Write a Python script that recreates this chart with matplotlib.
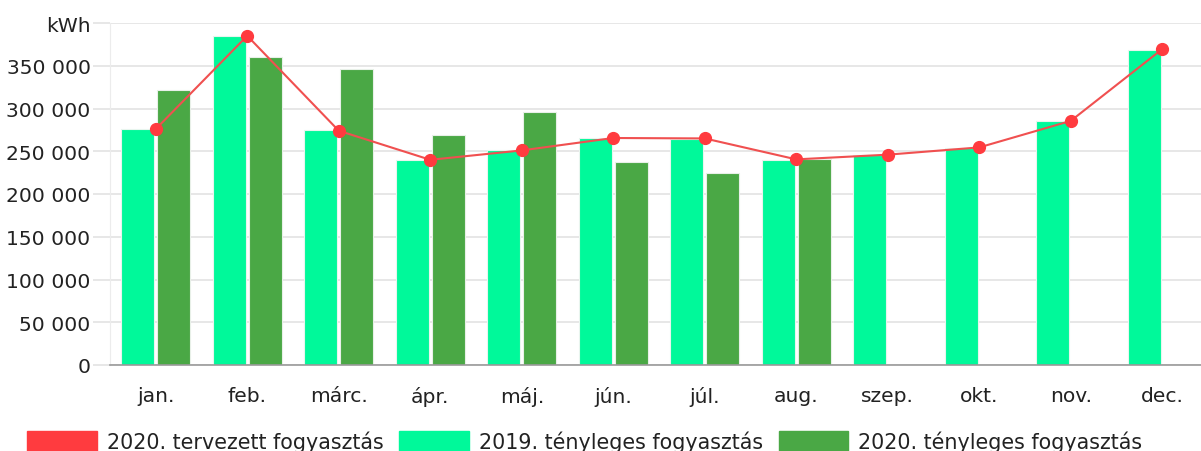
import numpy as np
import matplotlib.pyplot as plt
from matplotlib.patches import Patch
from matplotlib.ticker import FuncFormatter

honapok = ['jan.', 'feb.', 'márc.', 'ápr.', 'máj.', 'jún.', 'júl.', 'aug.', 'szep.', 'okt.', 'nov.', 'dec.']
terv_2020 = [276000, 385000, 274000, 240000, 251000, 265500, 265000, 240500, 246000, 254500, 285500, 369500]
teny_2019 = [276500, 385000, 274500, 240000, 251500, 265000, 264500, 240000, 246000, 253500, 285000, 368500]
teny_2020 = [321500, 360500, 346000, 269500, 295500, 238000, 224000, 240500]

c_terv = '#ff3b3f'
c_2019 = '#00f99a'
c_2020 = '#4aa845'

fig = plt.figure(figsize=(12.01, 4.52), dpi=100)
ax = fig.add_axes([110/1201, 86/452, 1 - 110/1201, (366-24)/452])

x = np.arange(len(honapok))
w = 0.36
ax.bar(x - 0.195, teny_2019, w, color=c_2019, edgecolor='#e8f5ee', linewidth=0.8, zorder=2)
ax.bar(x[:len(teny_2020)] + 0.195, teny_2020, w, color=c_2020, edgecolor='#e8f0e8', linewidth=0.8, zorder=2)
ax.plot(x, terv_2020, color='#f05050', lw=1.5, marker='o', markersize=8.5,
        markerfacecolor=c_terv, markeredgecolor=c_terv, zorder=3)

ax.set_xlim(-0.5, -0.5 + (1201-110)/91.5)
ax.set_ylim(0, 400000)
ax.set_yticks(np.arange(0, 400001, 50000))
ax.yaxis.set_major_formatter(FuncFormatter(
    lambda v, p: 'kWh' if v >= 400000 else f'{int(v):,}'.replace(',', ' ')))
ax.set_xticks(x)
ax.set_xticklabels(honapok)

ax.grid(axis='y', color='#e3e3e3', lw=1.2, zorder=0)
for s in ['top', 'right']:
    ax.spines[s].set_visible(False)
ax.spines['left'].set_color('#ececec')
ax.spines['bottom'].set_color('#999999')
ax.spines['bottom'].set_linewidth(1.2)
ax.tick_params(axis='y', length=12, width=1.2, color='#e3e3e3', pad=2, labelsize=14.6, labelcolor='#222222')
ax.tick_params(axis='x', length=0, pad=15, labelsize=14.6, labelcolor='#222222')
ax.set_axisbelow(True)

# jelmagyarázat alul
handles = [Patch(color=c_terv), Patch(color=c_2019), Patch(color=c_2020)]
labels = ['2020. tervezett fogyasztás', '2019. tényleges fogyasztás', '2020. tényleges fogyasztás']
fig.legend(handles, labels, loc='center left', bbox_to_anchor=(17/1201, 1 - 442/452),
           ncol=3, frameon=False, fontsize=14.9, borderpad=0, handlelength=3.35,
           handleheight=1.1, handletextpad=0.5, columnspacing=0.75, labelcolor='#222222')

fig.savefig('out.png', dpi=100)
